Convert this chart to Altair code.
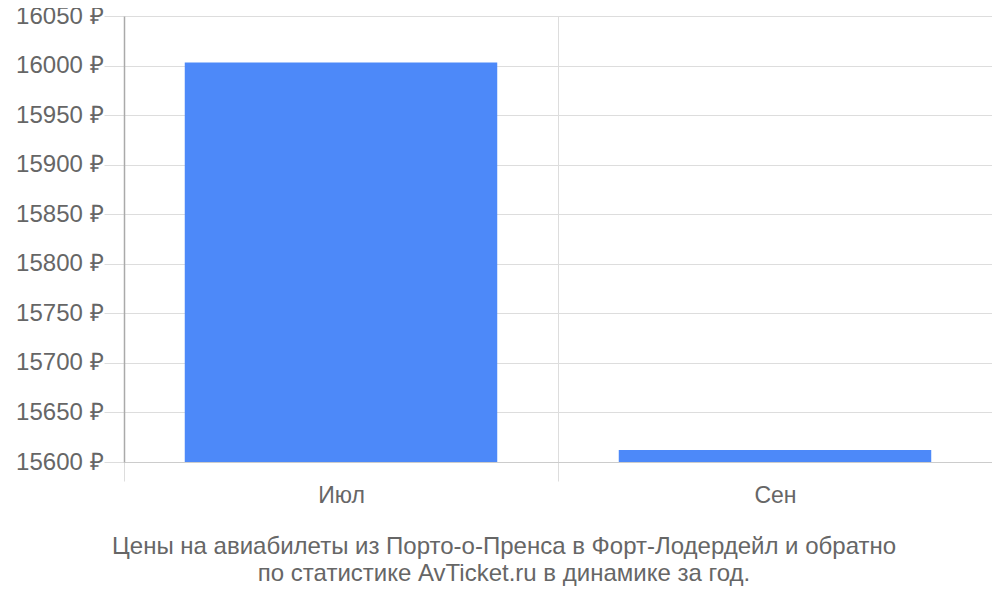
import altair as alt
import pandas as pd

months = ["Июл", "Сен"]
prices = [16003, 15612]
y_ticks = [15600, 15650, 15700, 15750, 15800, 15850, 15900, 15950, 16000, 16050]
title_lines = ["Цены на авиабилеты из Порто-о-Пренса в Форт-Лодердейл и обратно",
               "по статистике AvTicket.ru в динамике за год."]

df = pd.DataFrame({"month": months, "price": prices})

FONT = "Liberation Sans"

chart = alt.Chart(df).mark_bar(color="#4d89f9", clip=True,
                               width=alt.RelativeBandSize(0.72)).encode(
    x=alt.X("month:N", sort=months, title=None,
            scale=alt.Scale(paddingInner=0, paddingOuter=0),
            axis=alt.Axis(tickBand="extent", grid=True, gridColor="#dddddd",
                          tickColor="#dddddd", tickSize=19, domain=True,
                          domainColor="#cccccc", labelAngle=0,
                          labelFontSize=23, labelColor="#666666", labelFont=FONT,
                          labelPadding=3)),
    y=alt.Y("price:Q", title=None,
            scale=alt.Scale(domain=[15600, 16050], nice=False, zero=False),
            axis=alt.Axis(values=y_ticks, labelExpr="datum.value + ' ₽'",
                          grid=True, gridColor="#dddddd", tickColor="#dddddd",
                          tickSize=20, domainColor="#aaaaaa", domainWidth=1.5,
                          labelFontSize=24, labelColor="#666666", labelFont=FONT,
                          labelPadding=1)),
).properties(
    width=868, height=446,
    autosize=alt.AutoSizeParams(type="none"),
    padding={"left": 116, "top": 8, "right": 0, "bottom": 126},
    title=alt.TitleParams(text=title_lines, orient="bottom", anchor="middle",
                          frame="bounds", font=FONT, fontSize=24,
                          fontWeight="normal", color="#666666", offset=28,
                          lineHeight=27),
).configure_view(stroke=None)

chart.save("out.html", embed_options={"renderer": "svg", "actions": False})
